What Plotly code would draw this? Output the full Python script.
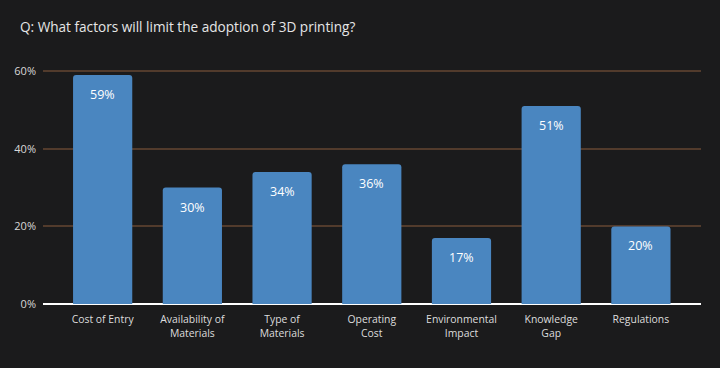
import plotly.graph_objects as go

categories = ["Cost of Entry", "Availability of<br>Materials", "Type of<br>Materials",
              "Operating<br>Cost", "Environmental<br>Impact", "Knowledge<br>Gap", "Regulations"]
values = [59, 30, 34, 36, 17, 51, 20]
tick_vals = [0, 20, 40, 60]
tick_text = ["0%", "20%", "40%", "60%"]

fig = go.Figure()
fig.add_trace(go.Bar(
    x=list(range(len(categories))), y=values,
    marker=dict(color="#4a86c0", line=dict(width=0), cornerradius=3),
    width=0.66, hoverinfo="skip",
))
for i, v in enumerate(values):
    fig.add_annotation(x=i, y=v, text=f"{v}%", showarrow=False, yanchor="top",
                       yshift=-9, font=dict(size=12.5, color="#ffffff", family="Open Sans"))

fig.add_annotation(xref="paper", yref="paper", x=-0.038, y=1.0, yshift=44, xanchor="left",
                   yanchor="middle", showarrow=False,
                   text="Q: What factors will limit the adoption of 3D printing?",
                   font=dict(size=13.6, color="#e6e6e6", family="Open Sans"))

fig.update_layout(
    width=720, height=368,
    margin=dict(l=43, r=19, t=70, b=64),
    paper_bgcolor="#1b1b1c", plot_bgcolor="#1b1b1c",
    showlegend=False,
    font=dict(family="Open Sans", color="#d8d8d8", size=11),
    xaxis=dict(range=[-0.665, 6.67], tickmode="array", tickvals=list(range(len(categories))),
               ticktext=categories, showgrid=False, zeroline=False, showline=False,
               ticks="", ticklabelstandoff=8, tickfont=dict(size=10.4, color="#dddddd")),
    yaxis=dict(range=[0, 60.3], tickmode="array", tickvals=tick_vals, ticktext=tick_text,
               showgrid=True, gridcolor="#523b2c", gridwidth=1.5, zeroline=True,
               zerolinecolor="#ffffff", zerolinewidth=2, ticks="", ticklabelstandoff=6,
               tickfont=dict(size=11, color="#d8d8d8")),
)
fig.write_html("out.html", config={"displayModeBar": False},
               post_script="document.body.style.margin='0';")
